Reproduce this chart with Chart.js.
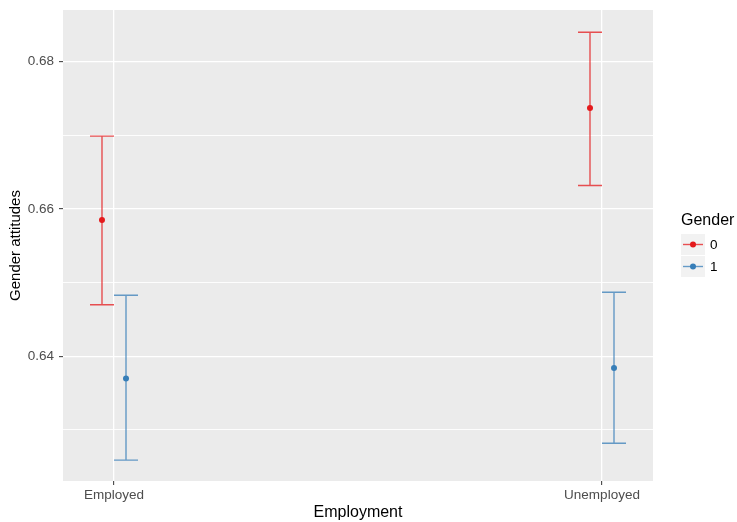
<!DOCTYPE html>
<html>
<head>
<meta charset="utf-8">
<script src="https://cdn.jsdelivr.net/npm/chart.js@4/dist/chart.umd.min.js"></script>
<style>
  html, body { margin: 0; padding: 0; background: #ffffff; }
  #wrap { width: 737px; height: 522px; }
</style>
</head>
<body>
<div id="wrap"><canvas id="c" width="737" height="522"></canvas></div>
<script>
// Employment categories on the x axis
const categories = ['Employed', 'Unemployed'];

// Gender groups (legend keys)
const genders = ['0', '1'];

// Mean gender attitudes with confidence limits, per employment category
const mean0  = [0.6585, 0.6737];
const lower0 = [0.6470, 0.6632];
const upper0 = [0.6699, 0.6840];

const mean1  = [0.6370, 0.6384];
const lower1 = [0.6259, 0.6282];
const upper1 = [0.6483, 0.6487];

// Y axis: labelled breaks and the minor breaks between them
const yBreaks = [0.64, 0.66, 0.68];
const yMinorBreaks = [0.63, 0.65, 0.67];

const FONT = "'Liberation Sans', Arial, sans-serif";
const pointColors = ['#E41A1C', '#377EB8'];
const barColors = ['rgba(228,26,28,0.75)', 'rgba(55,126,184,0.75)'];
const dodge = 0.0246;      // horizontal offset of each group (x units)
const capHalf = 0.0246;    // half width of error bar caps (x units)

const groups = [
  { mean: mean0, lower: lower0, upper: upper0 },
  { mean: mean1, lower: lower1, upper: upper1 }
];

const datasets = groups.map((g, k) => ({
  label: genders[k],
  data: g.mean.map((m, i) => ({ x: i + 1 + (k === 0 ? -dodge : dodge), y: m })),
  backgroundColor: pointColors[k],
  borderColor: pointColors[k],
  borderWidth: 0,
  pointRadius: 3,
  pointHoverRadius: 3,
  lower: g.lower,
  upper: g.upper,
  barColor: barColors[k]
}));

// Grey panel behind the plotting area
const panelBg = {
  id: 'panelBg',
  beforeDraw(chart) {
    const { ctx, chartArea: a } = chart;
    ctx.save();
    ctx.fillStyle = '#EBEBEB';
    ctx.fillRect(a.left, a.top, a.right - a.left, a.bottom - a.top);
    ctx.restore();
  }
};

// Vertical error bars with caps, drawn from the confidence limits
const errorBars = {
  id: 'errorBars',
  beforeDatasetsDraw(chart) {
    const { ctx, scales: { x, y } } = chart;
    ctx.save();
    ctx.lineWidth = 1.4;
    chart.data.datasets.forEach(ds => {
      ctx.strokeStyle = ds.barColor;
      ds.data.forEach((p, i) => {
        const px = x.getPixelForValue(p.x);
        const x0 = x.getPixelForValue(p.x - capHalf);
        const x1 = x.getPixelForValue(p.x + capHalf);
        const yl = y.getPixelForValue(ds.lower[i]);
        const yu = y.getPixelForValue(ds.upper[i]);
        ctx.beginPath();
        ctx.moveTo(px, yl); ctx.lineTo(px, yu);
        ctx.moveTo(x0, yl); ctx.lineTo(x1, yl);
        ctx.moveTo(x0, yu); ctx.lineTo(x1, yu);
        ctx.stroke();
      });
    });
    ctx.restore();
  }
};

// Legend on the right: title plus one key per gender
const sideLegend = {
  id: 'sideLegend',
  afterDraw(chart) {
    const { ctx } = chart;
    const left = 681, top = 234, key = 22, keyW = 24;
    ctx.save();
    ctx.fillStyle = '#000000';
    ctx.font = '16px ' + FONT;
    ctx.textBaseline = 'middle';
    ctx.textAlign = 'left';
    ctx.fillText('Gender', left, 221);
    chart.data.datasets.forEach((ds, k) => {
      const ky = top + k * key;
      ctx.fillStyle = '#F2F2F2';
      ctx.fillRect(left, ky, keyW, key - 1);
      const cy = ky + key / 2 - 0.5;
      ctx.strokeStyle = ds.barColor;
      ctx.lineWidth = 1.4;
      ctx.beginPath();
      ctx.moveTo(left + 2, cy); ctx.lineTo(left + keyW - 2, cy);
      ctx.stroke();
      ctx.fillStyle = ds.backgroundColor;
      ctx.beginPath();
      ctx.arc(left + keyW / 2, cy, 3, 0, Math.PI * 2);
      ctx.fill();
      ctx.fillStyle = '#000000';
      ctx.font = '13.5px ' + FONT;
      ctx.fillText(ds.label, left + keyW + 5, cy + 0.5);
    });
    ctx.restore();
  }
};

function noEdgePadding(scale) {
  scale.paddingTop = 0;
  scale.paddingBottom = 0;
  scale.paddingLeft = 0;
  scale.paddingRight = 0;
}

new Chart(document.getElementById('c'), {
  type: 'scatter',
  data: { datasets },
  plugins: [panelBg, errorBars, sideLegend],
  options: {
    responsive: false,
    animation: false,
    devicePixelRatio: 1,
    layout: { padding: { top: 10, right: 84, left: 0, bottom: 0 } },
    plugins: { legend: { display: false }, tooltip: { enabled: false } },
    scales: {
      x: {
        type: 'linear',
        min: 0.8955,
        max: 2.1045,
        afterBuildTicks(scale) {
          scale.ticks = categories.map((c, i) => ({ value: i + 1 }));
        },
        afterFit(scale) { scale.height = 41; noEdgePadding(scale); },
        border: { display: false },
        grid: {
          color: '#FFFFFF',
          lineWidth: 1.3,
          drawTicks: true,
          tickLength: 4,
          tickColor: '#333333',
          tickWidth: 1
        },
        ticks: {
          autoSkip: false,
          maxRotation: 0,
          padding: 2,
          color: '#4D4D4D',
          font: { family: FONT, size: 13.5 },
          callback: v => categories[Math.round(v) - 1]
        },
        title: {
          display: true,
          text: 'Employment',
          color: '#000000',
          font: { family: FONT, size: 16, lineHeight: 1 },
          padding: { top: 0, bottom: 1 }
        }
      },
      y: {
        type: 'linear',
        min: 0.62307,
        max: 0.68702,
        afterBuildTicks(scale) {
          scale.ticks = yBreaks.concat(yMinorBreaks)
            .sort((a, b) => a - b)
            .map(v => ({ value: v }));
        },
        afterFit(scale) { scale.width = 63; noEdgePadding(scale); },
        border: { display: false },
        grid: {
          color: '#FFFFFF',
          lineWidth: c => yBreaks.includes(c.tick && c.tick.value) ? 1.3 : 0.9,
          drawTicks: true,
          tickLength: 4,
          tickColor: c => yBreaks.includes(c.tick && c.tick.value) ? '#333333' : 'rgba(0,0,0,0)',
          tickWidth: 1
        },
        ticks: {
          padding: 5,
          color: '#4D4D4D',
          font: { family: FONT, size: 13.5 },
          callback: v => yBreaks.includes(v) ? v.toFixed(2) : ''
        },
        title: {
          display: true,
          text: 'Gender attitudes',
          color: '#000000',
          font: { family: FONT, size: 15, lineHeight: 1 },
          padding: { top: 8, bottom: 0 }
        }
      }
    }
  }
});
</script>
</body>
</html>
